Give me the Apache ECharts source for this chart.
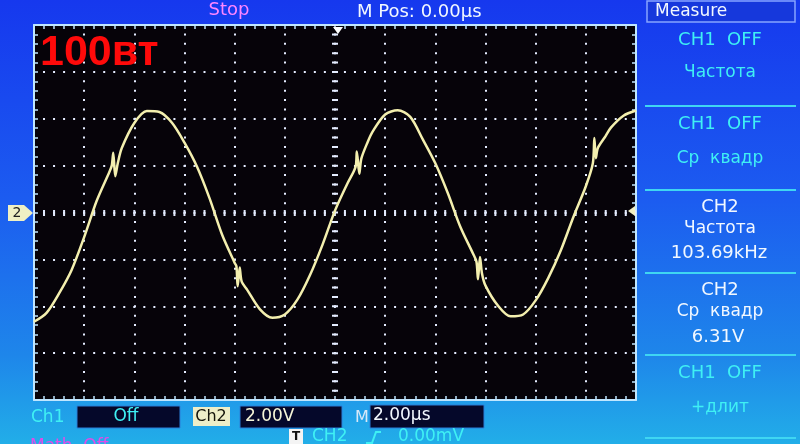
<!DOCTYPE html>
<html>
<head>
<meta charset="utf-8">
<script src="https://cdn.jsdelivr.net/npm/echarts@6/dist/echarts.min.js"></script>
<style>
html,body{margin:0;padding:0;background:#1a4ff0;}
#c{width:800px;height:444px;}
</style>
</head>
<body>
<div id="c"></div>
<script>
// Time axis in microseconds (2 µs/div, 12 div), voltage in volts (2 V/div, 8 div)
const timeUs = [-12,-11.5,-11,-10.5,-10,-9.5,-9,-8.9,-8.84,-8.76,-8.66,-8.5,-8,-7.5,-7,-6.5,-6,-5.5,-5,-4.5,-4,-3.93,-3.88,-3.8,-3.72,-3.5,-3,-2.5,-2,-1.5,-1,-0.5,0,0.5,0.82,0.87,0.97,1.05,1.3,1.5,2,2.5,3,3.5,4,4.5,5,5.5,5.64,5.7,5.78,5.86,6,6.5,7,7.5,8,8.5,9,9.5,10,10.28,10.34,10.4,10.48,10.75,11,11.5,12];
const ch2Volts = [-4.66,-4.28,-3.45,-2.45,-1.05,0.5,1.72,2.0,2.55,1.55,2.1,2.75,3.82,4.33,4.29,3.83,2.98,1.95,0.6,-0.95,-2.15,-2.3,-3.15,-2.35,-2.95,-3.3,-4.12,-4.49,-4.35,-3.72,-2.68,-1.38,0.08,1.25,1.95,2.6,1.65,2.3,3.0,3.45,4.18,4.36,4.08,3.12,2.1,0.82,-0.62,-1.75,-2.1,-2.85,-1.9,-2.6,-3.12,-3.98,-4.43,-4.35,-3.75,-2.8,-1.62,-0.2,1.12,2.1,3.18,2.32,2.75,3.2,3.62,4.13,4.35];

const topTexts = ['Stop', 'M Pos: 0.00\u03bcs'];
const overlayLabel = '100вт';
const measureTitle = 'Measure';
const measureLines = [
  ['CH1  OFF', 'Частота'],
  ['CH1  OFF', 'Ср  квадр'],
  ['CH2', 'Частота', '103.69kHz'],
  ['CH2', 'Ср  квадр', '6.31V'],
  ['CH1  OFF', '+длит']
];
const bottomTexts = ['Ch1', 'Off', 'Ch2', '2.00V', 'M', '2.00\u03bcs', 'T', 'CH2', '0.00mV', 'Math  Off'];

const traceData = timeUs.map((t, i) => [t, ch2Volts[i]]);

const FONT = '"DejaVu Sans", sans-serif';
const CYAN = '#3ff0f4';
const WHITE = '#f2f8ff';
const gridColor = '#e4ecff';
const borderColor = '#bfe6ff';

function txt(x, y, s, color, size, align, extra) {
  return {
    type: 'text', x: x, y: y, z: 50,
    style: { text: s, fill: color, font: (extra && extra.bold ? 'bold ' : '') + size + 'px ' + (extra && extra.family ? extra.family : FONT), textAlign: align || 'left', textVerticalAlign: 'middle' }
  };
}

const graphics = [];
// Measure header box
graphics.push({ type: 'rect', shape: { x: 647, y: 1, width: 148, height: 21 }, style: { fill: '#1638dc', stroke: '#86a4ff', lineWidth: 1.5 }, z: 40 });
graphics.push(txt(655, 12, measureTitle, WHITE, 17, 'left'));
// separators
[106, 190, 273, 355, 438].forEach(y => {
  graphics.push({ type: 'line', shape: { x1: 645, y1: y, x2: 796, y2: y }, style: { stroke: '#3fd6f2', lineWidth: 2 }, z: 40 });
});
// measure blocks
graphics.push(txt(720, 40, measureLines[0][0], CYAN, 18, 'center'));
graphics.push(txt(720, 73, measureLines[0][1], CYAN, 17, 'center'));
graphics.push(txt(720, 124, measureLines[1][0], CYAN, 18, 'center'));
graphics.push(txt(720, 159, measureLines[1][1], CYAN, 17, 'center'));
graphics.push(txt(720, 207, measureLines[2][0], WHITE, 18, 'center'));
graphics.push(txt(720, 229, measureLines[2][1], WHITE, 17, 'center'));
graphics.push(txt(719, 253, measureLines[2][2], WHITE, 18, 'center'));
graphics.push(txt(720, 290, measureLines[3][0], WHITE, 18, 'center'));
graphics.push(txt(720, 312, measureLines[3][1], WHITE, 17, 'center'));
graphics.push(txt(718, 337, measureLines[3][2], WHITE, 18, 'center'));
graphics.push(txt(720, 373, measureLines[4][0], CYAN, 18, 'center'));
graphics.push(txt(720, 408, measureLines[4][1], CYAN, 17, 'center'));
// top texts
graphics.push(txt(229, 10, topTexts[0], '#ff86ff', 18, 'center'));
graphics.push(txt(357, 12, topTexts[1], WHITE, 18, 'left'));
// red overlay label
graphics.push(txt(40, 53, overlayLabel, '#ff0a0a', 43, 'left', { bold: true, family: '"Liberation Sans", Arial, sans-serif' }));
// bottom row
graphics.push(txt(31, 418, bottomTexts[0], CYAN, 17, 'left'));
graphics.push({ type: 'rect', shape: { x: 77, y: 406, width: 103, height: 22 }, style: { fill: '#05082a', stroke: '#2a7fd8', lineWidth: 1 }, z: 40 });
graphics.push(txt(126, 417, bottomTexts[1], CYAN, 17, 'center'));
graphics.push({ type: 'rect', shape: { x: 193, y: 407, width: 37, height: 19 }, style: { fill: '#eeeec8' }, z: 40 });
graphics.push(txt(211, 417, bottomTexts[2], '#14140a', 16, 'center'));
graphics.push({ type: 'rect', shape: { x: 240, y: 406, width: 102, height: 22 }, style: { fill: '#05082a', stroke: '#2a7fd8', lineWidth: 1 }, z: 40 });
graphics.push(txt(245, 417, bottomTexts[3], '#f6f6d8', 17, 'left'));
graphics.push(txt(355, 418, bottomTexts[4], '#d8e8f8', 16, 'left'));
graphics.push({ type: 'rect', shape: { x: 370, y: 405, width: 114, height: 23 }, style: { fill: '#05082a', stroke: '#2a7fd8', lineWidth: 1 }, z: 40 });
graphics.push(txt(373, 416, bottomTexts[5], WHITE, 17, 'left'));
graphics.push({ type: 'rect', shape: { x: 289, y: 429, width: 14, height: 15 }, style: { fill: '#f4f4f4' }, z: 40 });
graphics.push(txt(296, 437, bottomTexts[6], '#101010', 12, 'center', { bold: true }));
graphics.push(txt(312, 437, bottomTexts[7], CYAN, 17, 'left'));
graphics.push({ type: 'polyline', shape: { points: [[366, 443], [372, 443], [376, 432], [381, 432]] }, style: { stroke: CYAN, lineWidth: 2, fill: null }, z: 40 });
graphics.push(txt(398, 437, bottomTexts[8], CYAN, 17, 'left'));
graphics.push(txt(30, 447, bottomTexts[9], '#e04ce8', 17, 'left'));
// channel 2 marker on the left
graphics.push({ type: 'polygon', shape: { points: [[8, 205], [24, 205], [33, 213], [24, 221], [8, 221]] }, style: { fill: '#f0f0c4' }, z: 40 });
graphics.push(txt(17, 213, '2', '#202020', 14, 'center'));
// trigger level marker on right, trigger position marker at top
graphics.push({ type: 'polygon', shape: { points: [[628, 211], [635, 206], [635, 216]] }, style: { fill: '#f0f0c4' }, z: 40 });
graphics.push({ type: 'polygon', shape: { points: [[333, 27], [343, 27], [338, 34]] }, style: { fill: '#ffffff' }, z: 40 });

function xAx(pos, split) {
  return {
    type: 'value', min: -12, max: 12, interval: 2, position: pos,
    axisLine: { show: true, onZero: false, lineStyle: { color: borderColor, width: 2 } },
    axisTick: { show: true, inside: true, length: 4, lineStyle: { color: borderColor, width: 1.5 } },
    minorTick: { show: true, splitNumber: 5, length: 4, lineStyle: { color: borderColor, width: 1.5 } },
    axisLabel: { show: false },
    splitLine: { show: split, lineStyle: { color: gridColor, width: 2, type: [2, 7.375], dashOffset: 1 } }
  };
}
function yAx(pos, split) {
  return {
    type: 'value', min: -8, max: 8, interval: 2, position: pos,
    axisLine: { show: true, onZero: false, lineStyle: { color: borderColor, width: 2 } },
    axisTick: { show: true, inside: true, length: 4, lineStyle: { color: borderColor, width: 1.5 } },
    minorTick: { show: true, splitNumber: 5, length: 4, lineStyle: { color: borderColor, width: 1.5 } },
    axisLabel: { show: false },
    splitLine: { show: split, lineStyle: { color: gridColor, width: 2, type: [2, 8.03], dashOffset: 1 } }
  };
}

const chart = echarts.init(document.getElementById('c'));
chart.setOption({
  animation: false,
  backgroundColor: {
    type: 'linear', x: 0, y: 0, x2: 0, y2: 1,
    colorStops: [
      { offset: 0, color: '#1638ee' },
      { offset: 0.45, color: '#1c5cf0' },
      { offset: 0.8, color: '#1e86ea' },
      { offset: 1, color: '#22aee8' }
    ]
  },
  grid: { left: 34, top: 25, width: 602, height: 375, show: true, backgroundColor: '#060309', borderWidth: 0 },
  xAxis: [xAx('bottom', true), xAx('top', false)],
  yAxis: [yAx('left', true), yAx('right', false)],
  graphic: graphics,
  series: [
    {
      type: 'line', xAxisIndex: 0, yAxisIndex: 0, data: [], silent: true,
      markLine: {
        silent: true, symbol: 'none', label: { show: false },
        data: [
          { yAxis: 0, lineStyle: { color: gridColor, width: 6, type: [2, 8.03], dashOffset: 1 } },
          { xAxis: 0, lineStyle: { color: gridColor, width: 6, type: [2, 7.375], dashOffset: 1 } }
        ]
      }
    },
    {
      type: 'line', xAxisIndex: 0, yAxisIndex: 0, data: traceData,
      showSymbol: false, smooth: 0.3, z: 10,
      lineStyle: { color: '#f3efae', width: 2.5 }
    }
  ]
});
</script>
</body>
</html>
